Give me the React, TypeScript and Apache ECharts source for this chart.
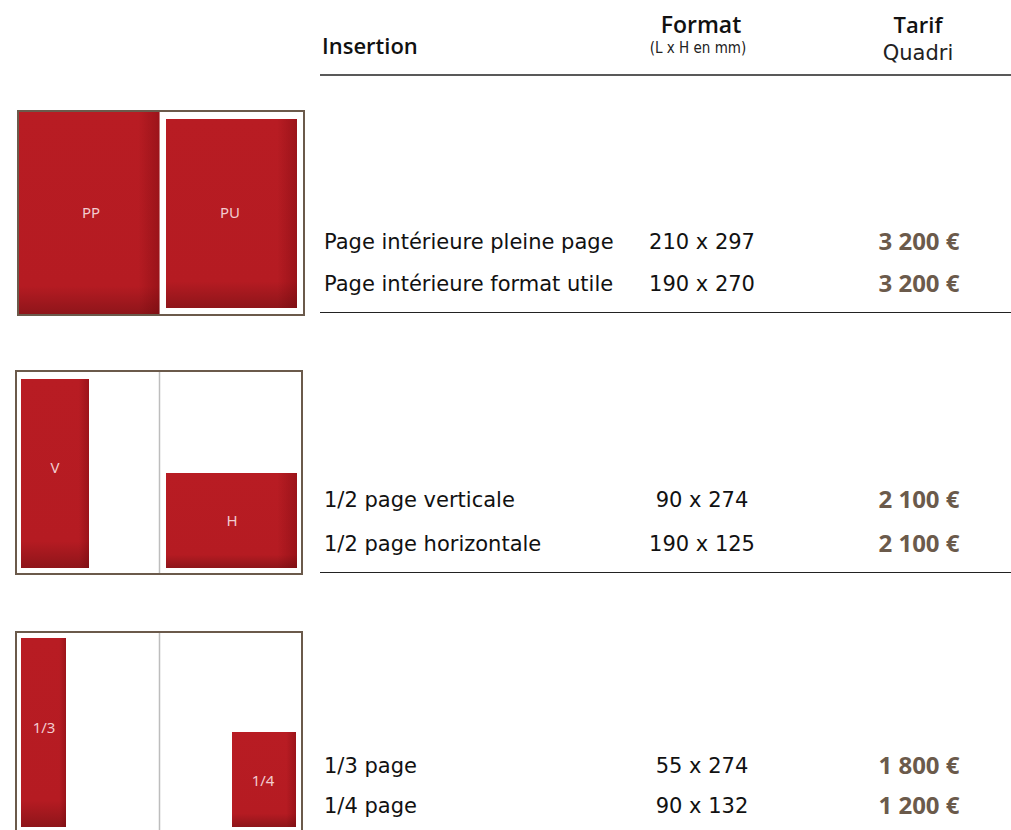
import React, { useEffect, useRef } from "react";
import * as echarts from "echarts";

const headerInsertion = "Insertion";
const headerFormat = "Format";
const headerFormatSub = "(L x H en mm)";
const headerTarif = "Tarif";
const headerTarifSub = "Quadri";

const insertions = [
  "Page intérieure pleine page",
  "Page intérieure format utile",
  "1/2 page verticale",
  "1/2 page horizontale",
  "1/3 page",
  "1/4 page",
];
const formats = ["210 x 297", "190 x 270", "90 x 274", "190 x 125", "55 x 274", "90 x 132"];
const tarifs = ["3 200 €", "3 200 €", "2 100 €", "2 100 €", "1 800 €", "1 200 €"];
const diagramLabels = ["PP", "PU", "V", "H", "1/3", "1/4"];

const FONT = "'Open Sans', 'Noto Sans', sans-serif";
const BODY = "'DejaVu Sans', 'Open Sans', sans-serif";
const BROWN = "#6b5a4b";

export default function App() {
  const ref = useRef<HTMLDivElement>(null);
  useEffect(() => {
    document.body.style.margin = "0";
    const chart = echarts.init(ref.current!, null, { renderer: "svg" });
    const els: any[] = [];

    const rowY = [241, 283, 499, 543, 765, 805];
    const sepY = [312.5, 572.5];

    // header
    els.push({ type: "text", style: { text: headerInsertion, x: 322, y: 45, fill: "#111", font: `600 22px ${FONT}`, align: "left", verticalAlign: "middle" } });
    els.push({ type: "text", style: { text: headerFormat, x: 701, y: 24, fill: "#111", font: `600 23px ${FONT}`, align: "center", verticalAlign: "middle" } });
    els.push({ type: "text", style: { text: headerFormatSub, x: 698, y: 48, fill: "#222", font: `15px 'Liberation Sans Narrow', 'DejaVu Sans Condensed', ${FONT}`, align: "center", verticalAlign: "middle" } });
    els.push({ type: "text", style: { text: headerTarif, x: 918, y: 24, fill: "#111", font: `600 22px ${FONT}`, align: "center", verticalAlign: "middle" } });
    els.push({ type: "text", style: { text: headerTarifSub, x: 918, y: 53, fill: "#222", font: `21px ${BODY}`, align: "center", verticalAlign: "middle" } });
    els.push({ type: "line", shape: { x1: 320, y1: 75, x2: 1011, y2: 75 }, style: { stroke: "#222", lineWidth: 1.6 } });

    insertions.forEach((name, i) => {
      els.push({ type: "text", style: { text: name, x: 324, y: rowY[i] + 1, fill: "#111", font: `21px ${BODY}`, align: "left", verticalAlign: "middle" } });
      els.push({ type: "text", style: { text: formats[i], x: 702, y: rowY[i] + 1, fill: "#111", font: `21px ${BODY}`, align: "center", verticalAlign: "middle" } });
      els.push({ type: "text", style: { text: tarifs[i], x: 919, y: rowY[i] - 1, fill: BROWN, font: `bold 24px ${FONT}`, align: "center", verticalAlign: "middle" } });
    });
    sepY.forEach((y) => {
      els.push({ type: "line", shape: { x1: 320, y1: y, x2: 1011, y2: y }, style: { stroke: "#222", lineWidth: 1 } });
    });

    const redFill = new echarts.graphic.LinearGradient(0, 0, 0, 1, [
      { offset: 0, color: "#b81c23" },
      { offset: 0.86, color: "#b51b22" },
      { offset: 1, color: "#8e151a" },
    ]);
    const sideShade = new echarts.graphic.LinearGradient(0, 0, 1, 0, [
      { offset: 0, color: "rgba(90,0,5,0)" },
      { offset: 0.85, color: "rgba(90,0,5,0)" },
      { offset: 1, color: "rgba(90,0,5,0.3)" },
    ]);
    const redRect = (x: number, y: number, w: number, h: number, label: string, lx: number, ly: number) => {
      els.push({ type: "rect", shape: { x, y, width: w, height: h }, style: { fill: redFill } });
      els.push({ type: "rect", shape: { x, y, width: w, height: h }, style: { fill: sideShade } });
      els.push({ type: "text", style: { text: label, x: lx, y: ly, fill: "#f2ccd0", font: `15px 'Noto Sans', ${FONT}`, align: "center", verticalAlign: "middle" } });
    };
    const divider = (x: number, y: number, w: number, h: number) => {
      els.push({ type: "line", shape: { x1: x + w / 2 + 0.5, y1: y, x2: x + w / 2 + 0.5, y2: y + h }, style: { stroke: "#bdbdbd", lineWidth: 1.5 } });
    };
    const frame = (x: number, y: number, w: number, h: number) => {
      els.push({ type: "rect", shape: { x, y, width: w, height: h }, style: { fill: "none", stroke: "#6b5a4b", lineWidth: 2 } });
    };

    // group 1
    redRect(18.5, 111.5, 141, 203, diagramLabels[0], 91, 212);
    redRect(166, 119, 131, 189, diagramLabels[1], 230, 212);
    frame(18, 111, 286, 204);

    // group 2
    divider(16, 371, 286, 203);
    redRect(21, 379, 68, 189, diagramLabels[2], 55, 467);
    redRect(166, 473, 131, 95, diagramLabels[3], 232, 520);
    frame(16, 371, 286, 203);

    // group 3
    divider(16, 632, 286, 260);
    redRect(21, 638, 45, 189, diagramLabels[4], 44, 727);
    redRect(232, 732, 64, 95, diagramLabels[5], 263, 780);
    frame(16, 632, 286, 260);

    chart.setOption({ animation: false, graphic: { elements: els } });
    return () => chart.dispose();
  }, []);
  return <div ref={ref} style={{ width: 1011, height: 830, background: "#fff" }} />;
}
